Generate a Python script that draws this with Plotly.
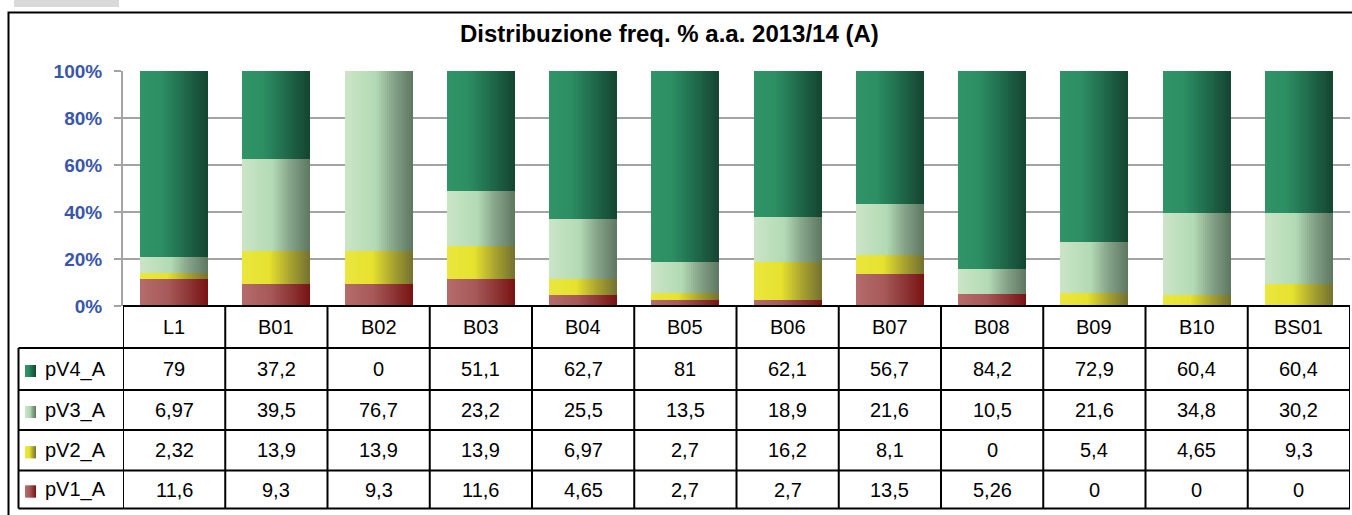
import plotly.graph_objects as go

categories = ["L1", "B01", "B02", "B03", "B04", "B05", "B06", "B07", "B08", "B09", "B10", "BS01"]
series_names = ["pV4_A", "pV3_A", "pV2_A", "pV1_A"]  # table order (top to bottom)
pV4_A = [79, 37.2, 0, 51.1, 62.7, 81, 62.1, 56.7, 84.2, 72.9, 60.4, 60.4]
pV3_A = [6.97, 39.5, 76.7, 23.2, 25.5, 13.5, 18.9, 21.6, 10.5, 21.6, 34.8, 30.2]
pV2_A = [2.32, 13.9, 13.9, 13.9, 6.97, 2.7, 16.2, 8.1, 0, 5.4, 4.65, 9.3]
pV1_A = [11.6, 9.3, 9.3, 11.6, 4.65, 2.7, 2.7, 13.5, 5.26, 0, 0, 0]
y_ticks = [0, 20, 40, 60, 80, 100]
y_tick_labels = ["0%", "20%", "40%", "60%", "80%", "100%"]
title_text = "Distribuzione freq. % a.a. 2013/14 (A)"

values = {"pV4_A": pV4_A, "pV3_A": pV3_A, "pV2_A": pV2_A, "pV1_A": pV1_A}
stack_order = ["pV1_A", "pV2_A", "pV3_A", "pV4_A"]  # bottom to top

gradients = {
    "pV4_A": [(0, (47, 148, 104)), (0.3, (45, 143, 100)), (0.6, (33, 112, 79)), (1, (19, 68, 48))],
    "pV3_A": [(0, (203, 229, 198)), (0.45, (178, 218, 180)), (0.7, (135, 165, 138)), (1, (94, 119, 96))],
    "pV2_A": [(0, (234, 230, 62)), (0.4, (230, 226, 46)), (0.7, (170, 164, 48)), (1, (117, 113, 48))],
    "pV1_A": [(0, (180, 108, 107)), (0.4, (168, 90, 90)), (0.7, (143, 56, 56)), (1, (122, 18, 18))],
}


def grad_color(stops, t):
    for (p0, c0), (p1, c1) in zip(stops[:-1], stops[1:]):
        if p0 <= t <= p1:
            f = (t - p0) / (p1 - p0) if p1 > p0 else 0
            c = [round(a + (b - a) * f) for a, b in zip(c0, c1)]
            return f"rgb({c[0]},{c[1]},{c[2]})"
    c = stops[-1][1]
    return f"rgb({c[0]},{c[1]},{c[2]})"


def fmt(v):
    return f"{v:g}".replace(".", ",")


# pixel geometry
W, H = 1352, 515
PL, PR, PT, PB = 123, 1350, 71, 306
PW, PH = PR - PL, PB - PT


def px(x):
    return (x - PL) / PW


def py(y):
    return (PB - y) / PH


totals = [sum(values[s][i] for s in stack_order) for i in range(len(categories))]
pct = {s: [values[s][i] / totals[i] * 100 for i in range(len(categories))] for s in stack_order}

fig = go.Figure()
BAR_W = 0.665
NS = 34
SW = BAR_W / NS
base = [0.0] * len(categories)
for s in stack_order:
    for k in range(NS):
        t = (k + 0.5) / NS
        w = SW * 2.0 if k < NS - 1 else SW
        fig.add_trace(go.Bar(
            x=categories, y=pct[s], base=base,
            offset=-BAR_W / 2 + k * SW, width=w,
            marker=dict(color=grad_color(gradients[s], t), line=dict(width=0)),
            showlegend=False, hoverinfo="skip",
        ))
    base = [b + v for b, v in zip(base, pct[s])]

shapes = []
annotations = []
BLACK = "#000000"

# outer chart border
shapes.append(dict(type="rect", xref="paper", yref="paper", x0=px(8.5), x1=px(1360), y0=py(12.5), y1=py(530),
                   line=dict(color=BLACK, width=2), fillcolor="rgba(0,0,0,0)", layer="below"))
# small grey tab at top left
shapes.append(dict(type="rect", xref="paper", yref="paper", x0=px(14), x1=px(119), y0=py(0), y1=py(7),
                   line=dict(width=0), fillcolor="#d9d9d9", layer="below"))

# table geometry
row_lines = [306, 348, 390, 430, 470.5, 508.5]
LEFT = 18.5
for i, yl in enumerate(row_lines):
    x0 = px(PL) if i == 0 else px(LEFT)
    shapes.append(dict(type="line", xref="paper", yref="paper", x0=x0, x1=px(PR), y0=py(yl), y1=py(yl),
                       line=dict(color=BLACK, width=2)))
n = len(categories)
for j in range(n + 1):
    shapes.append(dict(type="line", xref="x", yref="paper", x0=j - 0.5, x1=j - 0.5,
                       y0=py(row_lines[0]), y1=py(row_lines[-1]), line=dict(color=BLACK, width=2)))
shapes.append(dict(type="line", xref="paper", yref="paper", x0=px(LEFT), x1=px(LEFT),
                   y0=py(row_lines[1]), y1=py(row_lines[-1]), line=dict(color=BLACK, width=2)))

TFONT = dict(family="Liberation Sans, Arial, sans-serif", size=20, color="#000000")
for j, c in enumerate(categories):
    annotations.append(dict(x=c, xref="x", y=py((row_lines[0] + row_lines[1]) / 2), yref="paper",
                            text=c, showarrow=False, font=TFONT, xanchor="center", yanchor="middle"))
for r, s in enumerate(series_names):
    yc = (row_lines[r + 1] + row_lines[r + 2]) / 2
    for j, c in enumerate(categories):
        annotations.append(dict(x=c, xref="x", y=py(yc), yref="paper", text=fmt(values[s][j]),
                                showarrow=False, font=TFONT, xanchor="center", yanchor="middle"))
    annotations.append(dict(x=px(43), xref="paper", y=py(yc), yref="paper", text=s, showarrow=False,
                            font=TFONT, xanchor="left", yanchor="middle"))
    kx0, kx1 = 25, 36
    ky0, ky1 = yc - 4, yc + 8
    nk = 11
    for k in range(nk):
        a = kx0 + (kx1 - kx0) * k / nk
        b = kx0 + (kx1 - kx0) * (k + 1) / nk + (0.8 if k < nk - 1 else 0)
        shapes.append(dict(type="rect", xref="paper", yref="paper", x0=px(a), x1=px(b), y0=py(ky0), y1=py(ky1),
                           line=dict(width=0), fillcolor=grad_color(gradients[s], (k + 0.5) / nk)))

annotations.append(dict(x=px(669), xref="paper", y=py(33), yref="paper", text=title_text, showarrow=False,
                        font=dict(family="Liberation Sans, Arial, sans-serif", size=24, color="#000000", weight="bold"),
                        xanchor="center", yanchor="middle"))

fig.update_layout(
    width=W, height=H,
    margin=dict(l=PL, r=W - PR, t=PT, b=H - PB, pad=0),
    paper_bgcolor="white", plot_bgcolor="white",
    barmode="overlay", bargap=0,
    shapes=shapes, annotations=annotations,
    xaxis=dict(type="category", categoryorder="array", categoryarray=categories, range=[-0.5, n - 0.5],
               showticklabels=False, showgrid=False, zeroline=False, showline=False, ticks=""),
    yaxis=dict(range=[0, 100], tickvals=y_ticks, ticktext=y_tick_labels, showgrid=True, gridcolor="#a3a3a3",
               gridwidth=2, zeroline=False, showline=True, linecolor="#a3a3a3", linewidth=2,
               ticks="outside", ticklen=7, tickwidth=2, tickcolor="#a3a3a3", ticklabelstandoff=8,
               tickfont=dict(family="Liberation Sans, Arial, sans-serif", size=19, color="#3a56a8", weight="bold")),
)

fig.write_html("out.html", config={"displayModeBar": False},
               post_script="document.body.style.margin='0';document.body.style.padding='0';")
